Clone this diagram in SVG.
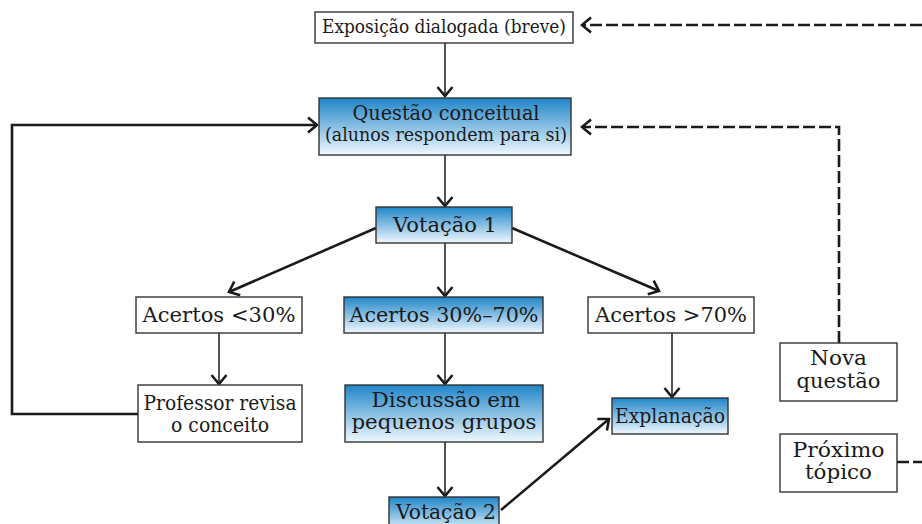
<svg xmlns="http://www.w3.org/2000/svg" width="922" height="524" viewBox="0 0 922 524">
<style>
.box{stroke:#333;stroke-width:1.4}
.w{fill:#fff}
.b{fill:url(#g)}
text{font-family:"DejaVu Serif","Liberation Serif",serif;fill:#1a1a1a;text-anchor:middle}
.c{fill:none;stroke:#1a1a1a}
.thin{stroke-width:1.5}
.thick{stroke-width:2.6}
.dash{stroke-width:2.6;stroke-dasharray:12 4}
</style>
<defs>
<linearGradient id="g" x1="0" y1="0" x2="0" y2="1">
<stop offset="0" stop-color="#1f85c8"/>
<stop offset="1" stop-color="#f0f8fe"/>
</linearGradient>
<marker id="a" viewBox="-11 -9 13 18" markerWidth="13" markerHeight="18" refX="0" refY="0" orient="auto" markerUnits="userSpaceOnUse">
<path d="M-9,-7.5 L0,0 L-9,7.5" fill="none" stroke="#1a1a1a" stroke-width="2.6" stroke-linejoin="miter"/>
</marker>
</defs>
<rect width="922" height="524" fill="#fff"/>

<g id="connectors">
<path class="c thin" d="M445,43 V96" marker-end="url(#a)"/>
<path class="c thin" d="M445,155 V206" marker-end="url(#a)"/>
<path class="c thin" d="M445,243 V296" marker-end="url(#a)"/>
<path class="c thin" d="M445,333 V384" marker-end="url(#a)"/>
<path class="c thin" d="M445,442 V496" marker-end="url(#a)"/>
<path class="c thin" d="M219,333 V384" marker-end="url(#a)"/>
<path class="c thin" d="M672,333 V397" marker-end="url(#a)"/>
<path class="c thick" d="M376,228 L229,292" marker-end="url(#a)"/>
<path class="c thick" d="M512,228 L659,291" marker-end="url(#a)"/>
<path class="c thick" d="M501,510 L609,419" marker-end="url(#a)"/>
<path class="c thick" d="M138,414 H12 V125 H317" marker-end="url(#a)"/>
<path class="c dash" d="M922,25 H582" marker-end="url(#a)"/>
<path class="c dash" d="M839,343 V127 H582" marker-end="url(#a)"/>
<path class="c dash" d="M897,462 H922"/>
</g>

<g id="exposicao">
<rect class="box w" x="315" y="12" width="258" height="31"/>
<text x="444" y="33" font-size="18.5" textLength="244" lengthAdjust="spacingAndGlyphs">Exposição dialogada (breve)</text>
</g>
<g id="questao">
<rect class="box b" x="319" y="98" width="252" height="57"/>
<text x="446" y="120" font-size="20" textLength="187" lengthAdjust="spacingAndGlyphs">Questão conceitual</text>
<text x="446" y="141" font-size="19" textLength="242" lengthAdjust="spacingAndGlyphs">(alunos respondem para si)</text>
</g>
<g id="votacao1">
<rect class="box b" x="376" y="207" width="136" height="36"/>
<text x="445" y="232" font-size="21" textLength="104" lengthAdjust="spacingAndGlyphs">Votação 1</text>
</g>
<g id="acertos-menos30">
<rect class="box w" x="136" y="297" width="166" height="36"/>
<text x="219" y="322" font-size="21" textLength="153" lengthAdjust="spacingAndGlyphs">Acertos &lt;30%</text>
</g>
<g id="acertos-30-70">
<rect class="box b" x="344" y="297" width="199" height="36"/>
<text x="444" y="322" font-size="21" textLength="189" lengthAdjust="spacingAndGlyphs">Acertos 30%–70%</text>
</g>
<g id="acertos-mais70">
<rect class="box w" x="588" y="297" width="166" height="36"/>
<text x="671" y="322" font-size="21" textLength="152" lengthAdjust="spacingAndGlyphs">Acertos &gt;70%</text>
</g>
<g id="professor">
<rect class="box w" x="138" y="385" width="164" height="57"/>
<text x="220" y="410" font-size="20" textLength="153" lengthAdjust="spacingAndGlyphs">Professor revisa</text>
<text x="220" y="432" font-size="20" textLength="98" lengthAdjust="spacingAndGlyphs">o conceito</text>
</g>
<g id="discussao">
<rect class="box b" x="345" y="385" width="198" height="57"/>
<text x="446" y="407" font-size="20" textLength="149" lengthAdjust="spacingAndGlyphs">Discussão em</text>
<text x="444" y="429" font-size="20" textLength="185" lengthAdjust="spacingAndGlyphs">pequenos grupos</text>
</g>
<g id="votacao2">
<rect class="box b" x="389" y="497" width="110" height="36"/>
<text x="446" y="519" font-size="21" textLength="100" lengthAdjust="spacingAndGlyphs">Votação 2</text>
</g>
<g id="explanacao">
<rect class="box b" x="612" y="398" width="116" height="36"/>
<text x="670" y="423" font-size="20" textLength="110" lengthAdjust="spacingAndGlyphs">Explanação</text>
</g>
<g id="nova-questao">
<rect class="box w" x="780" y="343" width="117" height="58"/>
<text x="838.5" y="365" font-size="20" textLength="57" lengthAdjust="spacingAndGlyphs">Nova</text>
<text x="838.5" y="388" font-size="20" textLength="84" lengthAdjust="spacingAndGlyphs">questão</text>
</g>
<g id="proximo-topico">
<rect class="box w" x="780" y="434" width="117" height="58"/>
<text x="838.5" y="457" font-size="20" textLength="92" lengthAdjust="spacingAndGlyphs">Próximo</text>
<text x="838.5" y="479" font-size="20" textLength="67" lengthAdjust="spacingAndGlyphs">tópico</text>
</g>
</svg>
